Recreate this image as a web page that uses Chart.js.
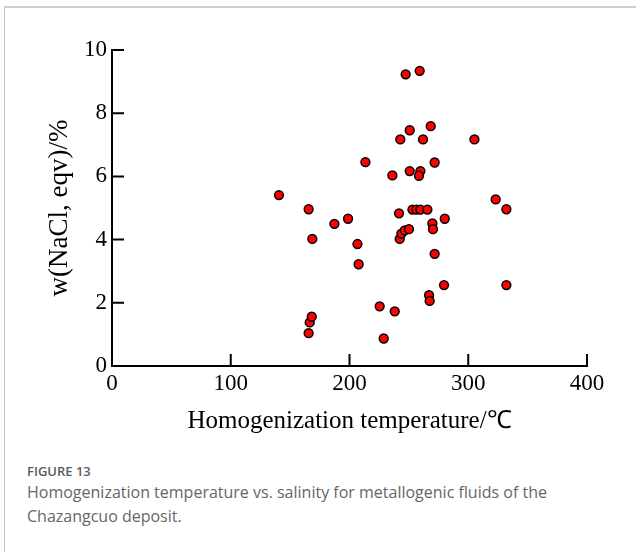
<!DOCTYPE html>
<html>
<head>
<meta charset="utf-8">
<script src="https://cdn.jsdelivr.net/npm/chart.js@4.4.1/dist/chart.umd.min.js"></script>
<style>
  html, body { margin: 0; padding: 0; background: #fff; }
  body { width: 636px; height: 552px; position: relative; overflow: hidden; }
  .frame { position: absolute; left: 4px; top: 6px; width: 700px; height: 600px;
           border-top: 2px solid #cfcfcf; border-left: 1px solid #c4c4c4; }
  .plot { position: absolute; left: 0; top: 0; width: 636px; height: 440px; }
  .caption { position: absolute; left: 27px; top: 462px; font-family: "Open Sans", "Noto Sans", sans-serif; }
  .caption .label { font-size: 13px; font-weight: 600; color: #5b5b5b; line-height: 18px; }
  .caption .text { font-size: 16px; color: #666; line-height: 24px; }
</style>
</head>
<body>
<div class="frame"></div>
<div class="plot"><canvas id="fig13" width="636" height="440"></canvas></div>
<div class="caption">
  <div class="label">FIGURE 13</div>
  <div class="text">Homogenization temperature vs. salinity for metallogenic fluids of the<br>Chazangcuo deposit.</div>
</div>
<script>
// fluid inclusion measurements: Th (°C) and salinity w(NaCl, eqv) %
const tempC = [
  140.6, 165.6, 168.7, 166.5, 168.2, 165.6, 187.3, 198.8, 206.7, 207.7,
  213.4, 225.4, 228.8, 238.1, 236.1, 241.7, 242.3, 243.7, 246.5, 250.1,
  242.8, 247.3, 259.1, 250.7, 268.4, 261.9, 305.2, 250.7, 259.7, 258.5,
  271.7, 253.0, 256.4, 259.7, 265.6, 280.2, 269.8, 270.3, 271.7, 279.6,
  332.1, 267.0, 267.5, 323.1, 332.1
];
const salinity = [
  5.41, 4.96, 4.02, 1.38, 1.56, 1.04, 4.50, 4.66, 3.86, 3.22,
  6.45, 1.89, 0.87, 1.73, 6.03, 4.83, 4.02, 4.19, 4.29, 4.33,
  7.17, 9.23, 9.34, 7.46, 7.59, 7.17, 7.17, 6.17, 6.17, 6.02,
  6.44, 4.95, 4.95, 4.95, 4.95, 4.66, 4.51, 4.33, 3.55, 2.56,
  2.56, 2.24, 2.06, 5.27, 4.96
];
const xTicks = [0, 100, 200, 300, 400];
const yTicks = [0, 2, 4, 6, 8, 10];

const serif = '"Liberation Serif", "Times New Roman", serif';

// tick marks point into the plot area
const inwardTicks = {
  id: 'inwardTicks',
  beforeDatasetsDraw(chart) {
    const { ctx, chartArea, scales } = chart;
    const len = 12;
    ctx.save();
    ctx.strokeStyle = '#000';
    ctx.lineWidth = 2;
    ctx.beginPath();
    xTicks.forEach(v => {
      const px = scales.x.getPixelForValue(v);
      ctx.moveTo(px, chartArea.bottom);
      ctx.lineTo(px, chartArea.bottom - len);
    });
    yTicks.forEach(v => {
      const py = scales.y.getPixelForValue(v);
      ctx.moveTo(chartArea.left, py);
      ctx.lineTo(chartArea.left + len, py);
    });
    ctx.stroke();
    ctx.restore();
  }
};

new Chart(document.getElementById('fig13').getContext('2d'), {
  type: 'scatter',
  data: {
    datasets: [{
      data: tempC.map((t, i) => ({ x: t, y: salinity[i] })),
      backgroundColor: '#ff0000',
      borderColor: '#000',
      borderWidth: 1.5,
      pointRadius: 4.4,
      pointHoverRadius: 4.4,
    }],
  },
  options: {
    responsive: false,
    animation: false,
    events: [],
    layout: { padding: { top: 50, right: 49, left: 0, bottom: 0 } },
    plugins: { legend: { display: false }, tooltip: { enabled: false } },
    scales: {
      x: {
        type: 'linear', min: 0, max: 400,
        afterBuildTicks: s => { s.ticks = xTicks.map(v => ({ value: v })); },
        afterFit: s => { s.height = 74; },
        grid: { display: false, drawTicks: false },
        border: { display: true, color: '#000', width: 2 },
        ticks: { padding: 4, color: '#000', font: { family: serif, size: 23 } },
        title: {
          display: true, text: 'Homogenization temperature/℃', color: '#000',
          font: { family: serif, size: 25 }, padding: { top: 0, bottom: 4 },
        },
      },
      y: {
        type: 'linear', min: 0, max: 10,
        afterBuildTicks: s => { s.ticks = yTicks.map(v => ({ value: v })); },
        afterFit: s => { s.width = 112; },
        grid: { display: false, drawTicks: false },
        border: { display: true, color: '#000', width: 2 },
        ticks: { padding: 5, color: '#000', font: { family: serif, size: 23 } },
        title: {
          display: true, text: 'w(NaCl, eqv)/%', color: '#000',
          font: { family: serif, size: 27 }, padding: { top: 44, bottom: 0 },
        },
      },
    },
  },
  plugins: [inwardTicks],
});
</script>
</body>
</html>
